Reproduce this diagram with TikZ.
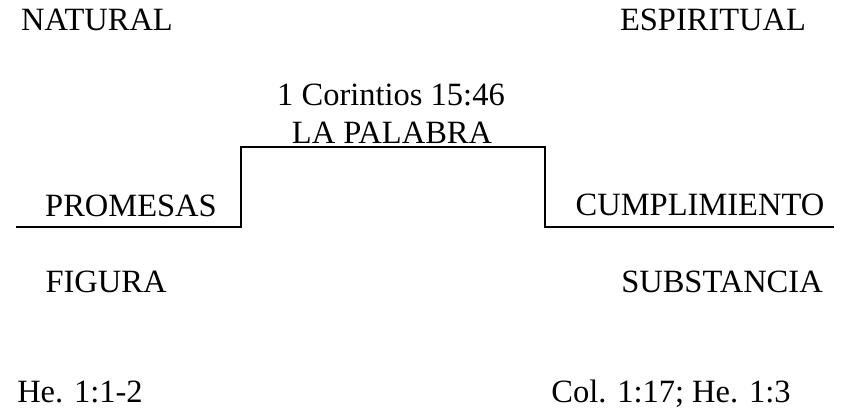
\documentclass[tikz,border=0pt]{standalone}
\usepackage{fontspec}
\setmainfont{Liberation Serif}
\tikzset{
texto/.style={
	  inner sep=0pt, anchor=base,
	    font=\fontsize{18.5}{22}\selectfont}
}

\begin{document}
\begin{tikzpicture}[x=0.02cm, y=-0.02cm, line width=1.1pt]
	\useasboundingbox (0,0) rectangle (850,409);
	\node[texto] (natural) at (97,31) {NATURAL};
	\node[texto] (espiritual) at (713,31) {ESPIRITUAL};
	\node[texto] (cita) at (391,105) {1 Corintios 15:46};
	\node[texto] (palabra) at (392,143) {LA PALABRA};
	\node[texto] (promesas) at (131,216) {PROMESAS};
	\node[texto] (cumplimiento) at (700,215) {CUMPLIMIENTO};
	\node[texto] (figura) at (106,292) {FIGURA};
	\node[texto] (substancia) at (722,292) {SUBSTANCIA};
	\node[texto] (hebreos) at (80,402) {He. 1:1-2};
	\node[texto] (colosenses) at (671,402) {Col. 1:17; He. 1:3};

	\coordinate (izq) at (16,227);
	\coordinate (der) at (834,227);
	\draw (izq) -- (241,227) -- (241,147) -- (545,147) -- (545,227) -- (der);

\end{tikzpicture}
\end{document}
